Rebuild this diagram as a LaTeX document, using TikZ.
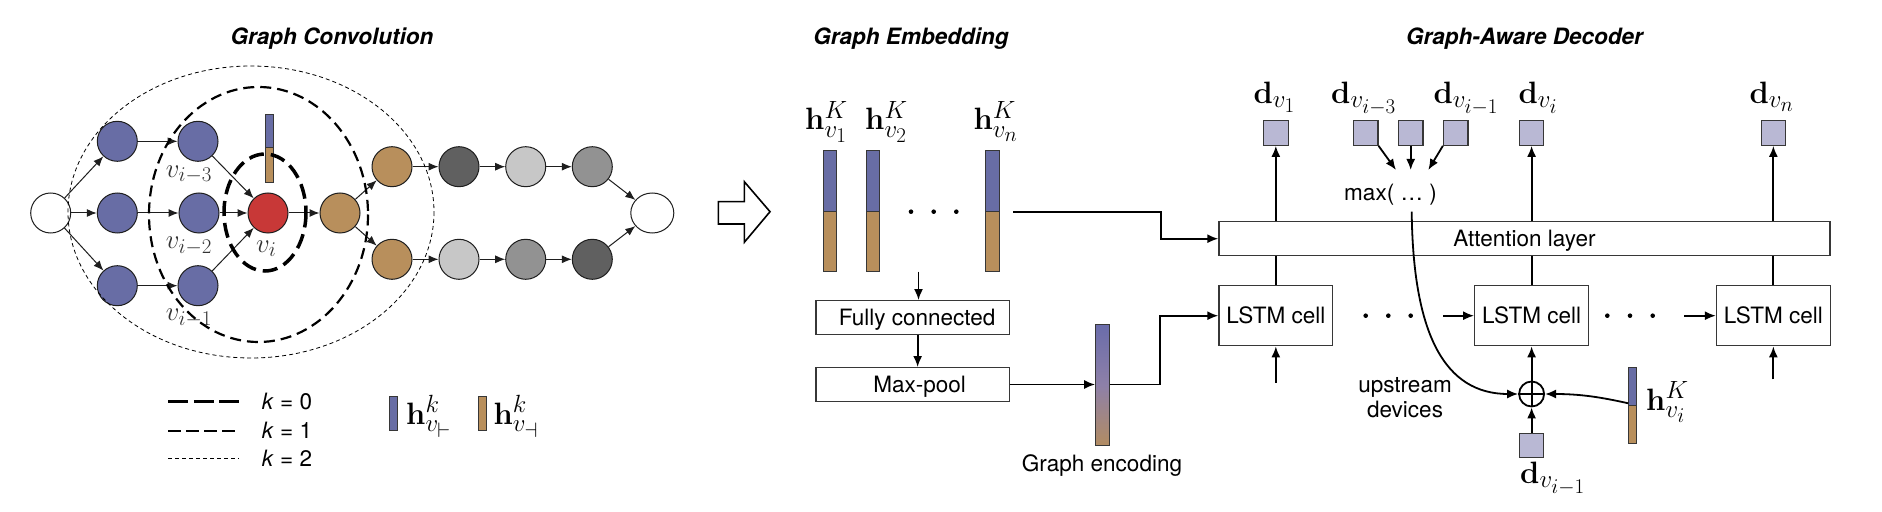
\RequirePackage{fix-cm}
\documentclass[tikz,border=0pt]{standalone}
\usepackage[no-math]{fontspec}
\setmainfont{TeX Gyre Heros}
\usetikzlibrary{arrows.meta,calc,shapes.geometric}
\DeclareMathSizes{31}{31}{25}{21}
\DeclareMathSizes{27}{27}{21}{17}
\definecolor{cblue}{RGB}{104,109,165}
\definecolor{cbrown}{RGB}{184,143,92}
\definecolor{cred}{RGB}{200,56,55}
\definecolor{cdark}{RGB}{96,96,96}
\definecolor{clight}{RGB}{199,199,199}
\definecolor{cmid}{RGB}{146,146,146}
\definecolor{csq}{RGB}{185,184,212}
\definecolor{cedge}{RGB}{30,30,30}
\definecolor{cbox}{RGB}{55,55,55}
\definecolor{gtop}{RGB}{106,108,170}
\definecolor{gmid}{RGB}{142,128,168}
\definecolor{gbot}{RGB}{178,140,98}
\newcommand\txtfont{\fontsize{22.6}{25}\selectfont}
\newcommand\ttlfont{\fontsize{22.6}{26}\selectfont\bfseries\itshape}
\newcommand\mlabfont{\fontsize{31}{36}\selectfont}
\newcommand\glabfont{\fontsize{27}{32}\selectfont}
\newcommand\mybar[5]{%
  \filldraw[barline,fill=cblue] (#1,#3) rectangle (#2,#4);
  \filldraw[barline,fill=cbrown] (#1,#4) rectangle (#2,#5);}
\tikzset{
  barline/.style={draw=cbox,line width=1bp},
  gnode/.style={circle,draw=cedge,line width=1bp,minimum size=40bp,inner sep=0pt},
  garrow/.style={-{Latex[length=10bp,width=8bp]},line width=1bp,draw=cedge},
  darr/.style={-{Latex[length=11bp,width=9bp]},line width=1.8bp,draw=black},
  dline/.style={line width=1.8bp,draw=black},
  boxn/.style={draw=cbox,line width=1.3bp,fill=white,inner sep=0pt,
    text height=16.3bp,text depth=0bp,font=\txtfont},
  sqn/.style={draw=cbox,line width=1.2bp,fill=csq,minimum size=24.5bp,inner sep=0pt},
  kzero/.style={dash pattern=on 15bp off 7bp,line width=3.5bp},
  kone/.style={dash pattern=on 11bp off 6bp,line width=2.2bp},
  ktwo/.style={dash pattern=on 4bp off 3bp,line width=0.8bp},
  ttl/.style={font=\ttlfont,anchor=base,inner sep=0pt},
  mlab/.style={font=\mlabfont,inner sep=0pt,anchor=base west},
  glab/.style={font=\glabfont,inner sep=0pt,anchor=base west,text=black!80},
  txt/.style={font=\txtfont,inner sep=0pt},
}
\begin{document}
\begin{tikzpicture}[x=1bp,y=-1bp]
\fill[white] (0,0) rectangle (1882,512);
\useasboundingbox (0,0) rectangle (1882,512);

% ---------- titles
\node[ttl] (t1) at (332,45) {Graph Convolution};
\node[ttl] (t2) at (911,45) {Graph Embedding};
\node[ttl] (t3) at (1524.5,45) {Graph-Aware Decoder};

% ---------- graph convolution
\node[gnode,fill=white] (S) at (50.7,213) {};
\node[gnode,fill=cblue] (a1) at (117.3,141.3) {};
\node[gnode,fill=cblue] (a2) at (117.3,213) {};
\node[gnode,fill=cblue] (a3) at (117.3,285.7) {};
\node[gnode,fill=cblue] (n1) at (198,141.3) {};
\node[gnode,fill=cblue] (n2) at (199,213) {};
\node[gnode,fill=cblue] (n3) at (198,285.7) {};
\node[gnode,fill=cred] (vi) at (268,213) {};
\node[gnode,fill=cbrown] (c0) at (340,213) {};
\node[gnode,fill=cbrown] (cu) at (392,166.7) {};
\node[gnode,fill=cbrown] (cl) at (392,259.3) {};
\node[gnode,fill=cdark] (u1) at (459,166.7) {};
\node[gnode,fill=clight] (u2) at (525.7,166.7) {};
\node[gnode,fill=cmid] (u3) at (592.3,166.7) {};
\node[gnode,fill=clight] (l1) at (459,259.3) {};
\node[gnode,fill=cmid] (l2) at (525.7,259.3) {};
\node[gnode,fill=cdark] (l3) at (592.3,259.3) {};
\node[ellipse,draw=cedge,line width=1bp,minimum width=43bp,minimum height=40bp,inner sep=0pt,fill=white] (E) at (652.3,213) {};
\foreach \s/\t in {S/a1,S/a2,S/a3,a1/n1,a2/n2,a3/n3,n1/vi,n2/vi,n3/vi,vi/c0,c0/cu,c0/cl,cu/u1,u1/u2,u2/u3,u3/E,cl/l1,l1/l2,l2/l3,l3/E}
  \draw[garrow] (\s) -- (\t);

\mybar{265}{273}{115}{148}{183}

\node[glab] (lb3) at (165.7,177.3) {$v_{i-3}$};
\node[glab] (lb2) at (165.7,249) {$v_{i-2}$};
\node[glab] (lb1) at (165.7,320.7) {$v_{i-1}$};
\node[glab] (lvi) at (256,252.3) {$v_i$};

\draw[kzero] (265,212.5) ellipse [x radius=41,y radius=58.5];
\draw[kone] (258.5,214.5) ellipse [x radius=109.5,y radius=127.5];
\draw[ktwo] (251,212) ellipse [x radius=183,y radius=146];

% legend
\draw[kzero,dash pattern=on 20bp off 5.5bp] (168.3,401.7) -- (239.3,401.7);
\draw[kone,dash pattern=on 13bp off 5bp] (168.3,430.7) -- (239.3,430.7);
\draw[ktwo] (168.3,458.3) -- (239.3,458.3);
\node[txt,anchor=west] (lk0) at (261.7,401.7) {\textit{k} = 0};
\node[txt,anchor=west] (lk1) at (261.7,430.7) {\textit{k} = 1};
\node[txt,anchor=west] (lk2) at (261.7,458.3) {\textit{k} = 2};
\filldraw[barline,fill=cblue] (389.3,396) rectangle (397.3,430.7);
\node[mlab] (lh1) at (406,424) {$\mathbf{h}^k_{v_\vdash}$};
\filldraw[barline,fill=cbrown] (478.3,396) rectangle (486.7,430.7);
\node[mlab] (lh2) at (493.3,424) {$\mathbf{h}^k_{v_\dashv}$};

% ---------- hollow arrow
\draw[line width=1.6bp,line join=miter] (718.3,201.7) -- (744.3,201.7) -- (744.3,181.7) -- (770,211.7) -- (744.3,242.3) -- (744.3,224) -- (718.3,224) -- cycle;

% ---------- graph embedding
\mybar{823.3}{836.7}{151}{211.7}{272}
\mybar{866}{879.3}{151}{211.7}{272}
\mybar{985.7}{999}{151}{211.7}{272}
\foreach \x in {911,933.7,956.3} \fill (\x,211.7) circle[radius=2.3];
\node[mlab] (hl1) at (805,130) {$\mathbf{h}^K_{v_1}$};
\node[mlab] (hl2) at (865,130) {$\mathbf{h}^K_{v_2}$};
\node[mlab] (hln) at (973.3,130) {$\mathbf{h}^K_{v_n}$};

\node[boxn,minimum width=193.3bp,minimum height=33.6bp] (FC) at (912.65,317.5) {\hspace{9bp}Fully connected};
\node[boxn,minimum width=193.3bp,minimum height=33.6bp] (MP) at (912.65,384.5) {\hspace{14bp}Max-pool};
\coordinate (fcin) at (918.5,271.7);
\draw[darr] (fcin) -- (fcin |- FC.north);
\draw[darr] ($(FC.south)+(5,0)$) -- ($(MP.north)+(5,0)$);

\node[draw=cbox,line width=1bp,minimum width=13.6bp,minimum height=120.7bp,inner sep=0pt,
  top color=gtop,bottom color=gbot,middle color=gmid] (GE) at (1102.5,385.35) {};
\node[txt,anchor=base] (gel) at (1102,471.5) {Graph encoding};

% ---------- decoder
\node[boxn,minimum width=611bp,minimum height=34bp] (Att) at (1524.5,238.7) {Attention layer};
\node[boxn,minimum width=113.7bp,minimum height=60bp] (L1) at (1275.85,315.7) {LSTM cell};
\node[boxn,minimum width=113.7bp,minimum height=60bp] (L2) at (1531.6,315.7) {LSTM cell};
\node[boxn,minimum width=113.7bp,minimum height=60bp] (L3) at (1773.35,315.7) {LSTM cell};

\draw[darr] (MP.east) -- (MP.east -| GE.west);
\draw[darr] (MP.east -| GE.east) -- (1160,384.5) |- (L1.west);
\coordinate (hnout) at (1013.3,212);
\draw[darr] (hnout) -- (1161,212) |- (Att.west);

\node[sqn] (q1) at (1275.85,133) {};
\node[sqn] (q2) at (1365.7,133) {};
\node[sqn] (q3) at (1410.7,133) {};
\node[sqn] (q4) at (1455.7,133) {};
\node[sqn] (q5) at (1531.6,133) {};
\node[sqn] (q6) at (1773.35,133) {};
\node[mlab] (dl1) at (1253.3,103.3) {$\mathbf{d}_{v_1}$};
\node[mlab] (dl2) at (1331,103.3) {$\mathbf{d}_{v_{i-3}}$};
\node[mlab] (dl4) at (1433.3,103.3) {$\mathbf{d}_{v_{i-1}}$};
\node[mlab] (dl5) at (1518.3,103.3) {$\mathbf{d}_{v_i}$};
\node[mlab] (dl6) at (1749.4,103.3) {$\mathbf{d}_{v_n}$};

\foreach \l/\q in {L1/q1,L2/q5,L3/q6}{
  \draw[dline] (\l.north) -- (\l.north |- Att.south);
  \draw[darr] (Att.north -| \q) -- (\q.south);
}

\node[txt] (mx) at (1390.5,195) {max(~…~)};
\coordinate (m1) at (1396,170);
\coordinate (m2) at (1410.7,170);
\coordinate (m3) at (1428.3,170);
\draw[darr] (q2.south east) -- (m1);
\draw[darr] (q3.south) -- (m2);
\draw[darr] (q4.south west) -- (m3);

\node[circle,draw,line width=1.8bp,minimum size=25bp,inner sep=0pt] (plus) at (1531.6,394) {};
\draw[line width=1.8bp] (plus.north) -- (plus.south) (plus.west) -- (plus.east);
\draw[darr] (plus.north) -- (L2.south);
\node[sqn] (q7) at (1531.6,445.5) {};
\draw[darr] (q7.north) -- (plus.south);
\node[mlab] (dl7) at (1520,483.3) {$\mathbf{d}_{v_{i-1}}$};

\mybar{1628.3}{1636.7}{367.3}{405}{443.3}
\coordinate (hvo) at (1628.3,403.3);
\draw[darr] (hvo) .. controls (1600,397) and (1580,394) .. (plus.east);
\node[mlab] (hvl) at (1646,410) {$\mathbf{h}^K_{v_i}$};

\coordinate (mxout) at (1411.7,211.7);
\draw[darr] (mxout) .. controls (1413,335) and (1445,394) .. (plus.west);
\node[txt,align=center] (up) at (1405,398) {upstream\\devices};

\foreach \x in {1365.7,1388.3,1410.7,1607.3,1630,1652.7} \fill (\x,315.7) circle[radius=2.3];
\coordinate (in2) at (1443.3,315.7);
\coordinate (in3) at (1684.3,315.7);
\draw[darr] (in2) -- (L2.west);
\draw[darr] (in3) -- (L3.west);
\coordinate (bl1) at (1275.85,382.7);
\coordinate (bl3) at (1773.35,379.3);
\draw[darr] (bl1) -- (L1.south);
\draw[darr] (bl3) -- (L3.south);
\end{tikzpicture}
\end{document}
